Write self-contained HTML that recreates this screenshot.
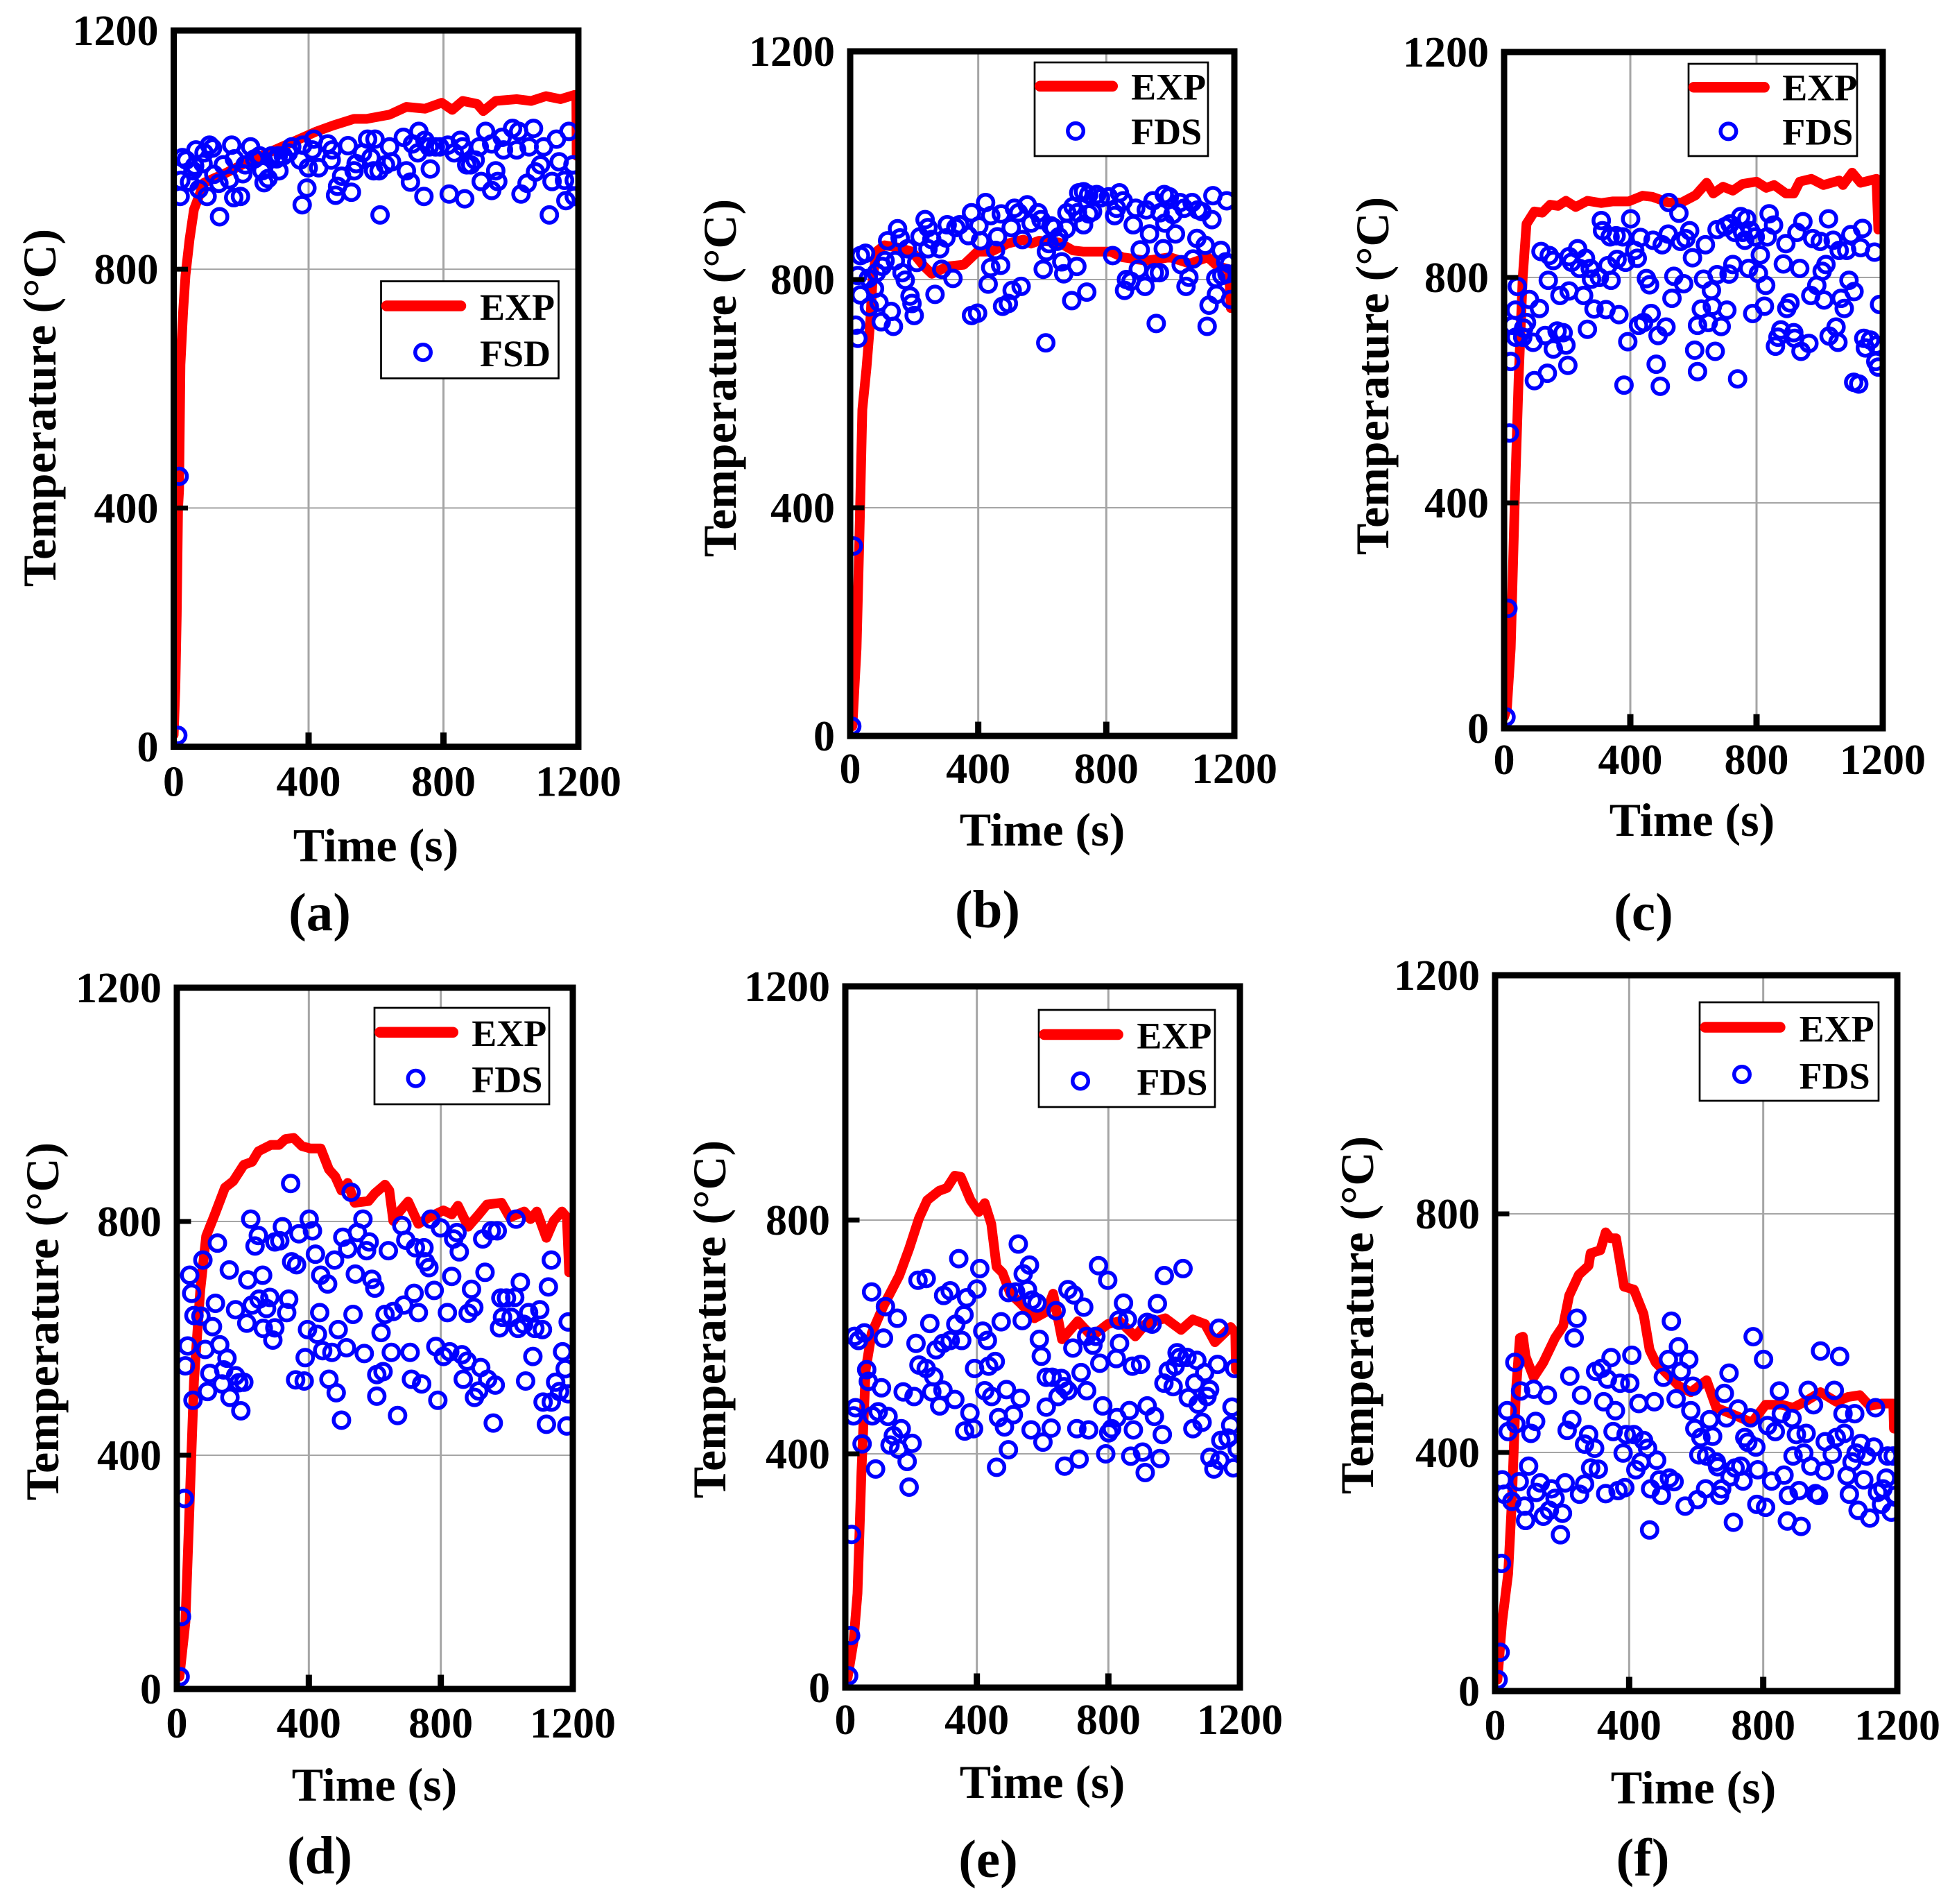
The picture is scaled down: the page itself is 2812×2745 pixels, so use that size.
<!DOCTYPE html>
<html lang="en">
<head>
<meta charset="utf-8">
<title>Temperature vs time comparison</title>
<style>
html,body{margin:0;padding:0;background:#fff}
svg{display:block}
text{font-family:"Liberation Serif",serif;font-weight:bold;fill:#000}
</style>
</head>
<body>
<svg id="figure" xmlns="http://www.w3.org/2000/svg" width="2812" height="2745" viewBox="0 0 2812 2745"></svg>
<script>
const timeTicks = [0, 400, 800, 1200];
const tempTicks = [0, 400, 800, 1200];

const expA = [[0,20],[5,100],[9,220],[13,400],[16,430],[20,640],[28,730],[35,790],[47,850],[60,900],[90,945],[150,960],[220,980],[300,1000],[360,1015],[424,1031],[473,1041],[535,1052],[572,1052],[640,1059],[690,1072],[745,1069],[795,1079],[826,1067],[857,1082],[900,1077],[918,1065],[955,1082],[1017,1085],[1060,1082],[1104,1090],[1147,1085],[1188,1092],[1194,1092],[1195,990]];
const fdsA = [[12,19],[16,453],[19,922],[26,987],[37,983],[21,949],[47,946],[57,965],[66,1000],[62,973],[75,934],[87,977],[99,922],[90,995],[115,1003],[106,1008],[119,959],[134,944],[136,888],[147,975],[165,950],[172,1008],[180,985],[178,920],[198,922],[205,960],[212,975],[228,1005],[240,985],[255,990],[262,965],[268,945],[280,952],[290,990],[305,985],[310,990],[312,965],[325,990],[340,995],[350,1005],[375,983],[383,1008],[381,908],[395,936],[399,970],[415,1018],[411,1000],[430,970],[457,1010],[470,1000],[467,983],[480,924],[486,939],[498,956],[517,1007],[527,929],[535,965],[541,977],[560,995],[575,1018],[597,1018],[585,987],[593,965],[612,891],[609,965],[628,975],[640,1005],[646,980],[681,1021],[690,965],[702,946],[708,1010],[727,1031],[724,995],[742,922],[745,1016],[758,1005],[761,968],[776,1005],[789,1005],[817,926],[813,1008],[832,995],[850,1016],[857,1005],[863,918],[869,975],[881,975],[894,983],[906,1005],[912,947],[925,1031],[943,1010],[943,932],[955,965],[961,947],[974,1021],[978,1000],[1005,1036],[1023,1031],[1017,1000],[1030,926],[1048,944],[1067,1036],[1054,1005],[1073,963],[1088,975],[1097,1005],[1114,891],[1122,947],[1135,1018],[1143,980],[1159,949],[1163,915],[1172,1031],[1184,975],[1188,949],[1188,922]];

const expB = [[0,20],[7,17],[20,153],[29,352],[38,572],[51,645],[63,729],[70,800],[82,849],[107,860],[150,856],[193,849],[231,823],[255,810],[305,823],[355,826],[398,849],[441,849],[491,863],[541,870],[565,863],[590,868],[652,865],[696,851],[727,849],[813,849],[851,839],[925,833],[999,839],[1061,828],[1117,839],[1148,823],[1183,818],[1189,750]];
const fdsB = [[5,17],[10,333],[17,720],[24,697],[24,807],[32,773],[32,842],[48,846],[60,752],[57,802],[76,784],[82,812],[90,760],[97,726],[100,823],[109,833],[117,868],[128,744],[135,718],[141,833],[148,889],[156,873],[162,812],[172,799],[179,854],[187,771],[193,758],[200,737],[208,830],[218,875],[234,905],[243,891],[243,854],[255,870],[265,774],[280,854],[286,818],[299,873],[303,896],[321,802],[330,891],[342,896],[369,877],[379,917],[379,737],[398,741],[402,894],[407,868],[423,935],[431,792],[439,821],[439,912],[454,851],[460,875],[470,825],[472,915],[476,753],[494,758],[503,891],[506,781],[513,925],[534,788],[526,917],[538,870],[553,931],[565,899],[587,917],[596,905],[603,818],[611,689],[613,849],[621,863],[627,894],[636,891],[646,867],[652,875],[661,831],[667,810],[675,889],[677,917],[692,763],[696,928],[708,823],[710,917],[714,952],[729,896],[729,954],[739,778],[745,915],[745,949],[757,919],[770,949],[782,943],[807,945],[820,842],[826,912],[832,925],[841,952],[853,938],[857,781],[863,800],[877,797],[884,896],[892,925],[900,818],[906,852],[921,788],[925,922],[935,880],[946,938],[950,812],[956,723],[966,812],[968,917],[978,854],[981,949],[983,899],[997,945],[1008,914],[1016,880],[1030,935],[1034,826],[1043,925],[1049,788],[1058,804],[1068,935],[1071,836],[1083,872],[1086,922],[1099,919],[1109,860],[1115,718],[1121,755],[1133,947],[1130,905],[1142,802],[1144,774],[1158,851],[1161,807],[1176,938],[1173,831],[1177,810],[1185,828],[1188,765]];

const expC = [[0,20],[9,36],[21,142],[34,407],[46,620],[59,800],[71,895],[96,917],[121,915],[146,929],[171,927],[196,936],[227,925],[264,936],[308,932],[345,935],[395,935],[439,945],[470,943],[520,933],[563,933],[607,946],[642,968],[663,949],[694,961],[725,954],[756,966],[800,970],[831,959],[856,964],[893,949],[918,949],[937,970],[974,975],[1012,964],[1062,972],[1074,964],[1103,986],[1130,968],[1180,975],[1186,885]];
const fdsC = [[6,20],[12,213],[17,524],[21,651],[27,715],[36,742],[42,784],[37,694],[59,694],[62,710],[71,720],[80,761],[92,685],[96,617],[112,745],[117,846],[130,697],[137,630],[140,795],[143,839],[156,830],[156,673],[168,705],[177,768],[187,702],[196,680],[202,644],[206,837],[206,776],[214,827],[233,851],[239,816],[252,768],[258,834],[264,708],[273,816],[277,797],[285,744],[302,800],[308,901],[312,883],[323,743],[329,821],[336,872],[339,795],[355,874],[364,734],[358,832],[376,872],[380,609],[385,827],[392,686],[401,904],[414,848],[422,834],[426,715],[432,871],[442,720],[451,798],[461,787],[466,736],[472,866],[482,646],[488,697],[495,607],[501,858],[513,712],[520,877],[522,933],[532,763],[538,802],[554,914],[559,864],[569,789],[576,869],[588,883],[597,835],[604,671],[613,633],[613,715],[625,744],[632,797],[638,858],[647,720],[657,777],[660,749],[669,669],[675,885],[675,805],[688,713],[700,890],[706,742],[713,806],[716,895],[725,823],[731,880],[740,620],[750,908],[756,880],[763,866],[769,904],[775,816],[781,883],[788,736],[796,872],[806,807],[812,840],[825,749],[829,786],[834,872],[840,913],[854,893],[860,678],[868,694],[877,707],[885,824],[893,860],[896,745],[906,755],[918,702],[921,692],[928,880],[937,816],[941,669],[947,899],[966,683],[972,768],[978,869],[991,786],[1002,864],[1008,811],[1014,760],[1020,823],[1028,904],[1030,696],[1043,866],[1052,712],[1058,685],[1062,848],[1068,763],[1078,745],[1086,848],[1093,795],[1099,876],[1109,775],[1108,614],[1124,611],[1130,853],[1136,887],[1140,692],[1145,675],[1161,689],[1174,845],[1178,651],[1180,680],[1186,641],[1190,752]];

const expD = [[0,20],[8,21],[26,114],[39,320],[52,527],[71,682],[89,775],[115,812],[146,858],[171,869],[203,897],[228,902],[247,920],[285,931],[310,931],[329,941],[354,943],[379,929],[404,925],[436,925],[461,889],[480,877],[499,853],[518,866],[539,832],[581,835],[600,848],[631,863],[644,853],[656,801],[675,817],[701,834],[732,796],[764,807],[808,819],[833,812],[852,827],[883,791],[915,812],[940,829],[984,832],[1009,807],[1053,817],[1072,804],[1091,817],[1120,772],[1142,801],[1167,817],[1182,807],[1189,713]];
const fdsD = [[10,21],[14,124],[23,326],[26,553],[33,587],[39,708],[45,677],[49,494],[52,639],[73,638],[79,734],[86,581],[93,509],[100,540],[108,620],[117,660],[123,763],[130,589],[137,522],[142,546],[152,566],[159,717],[161,499],[178,649],[178,536],[188,524],[194,476],[203,525],[212,626],[215,700],[224,804],[228,657],[237,758],[247,776],[249,667],[260,708],[262,617],[272,651],[282,670],[291,597],[297,618],[297,765],[312,767],[320,791],[333,644],[339,667],[345,865],[348,731],[360,529],[363,726],[370,779],[386,527],[389,567],[396,615],[401,804],[411,784],[420,744],[426,607],[433,644],[436,708],[442,579],[457,693],[461,530],[470,576],[478,734],[483,507],[489,615],[499,460],[503,773],[514,584],[518,753],[528,850],[534,641],[541,710],[547,781],[564,804],[568,574],[575,750],[583,765],[591,701],[600,686],[606,501],[606,538],[619,610],[625,543],[631,641],[641,750],[650,576],[656,646],[669,468],[682,793],[688,657],[694,768],[707,576],[711,530],[719,677],[723,755],[732,644],[742,522],[749,755],[753,731],[764,721],[770,804],[780,682],[785,586],[791,494],[799,789],[808,569],[820,644],[827,577],[833,706],[839,770],[849,781],[856,748],[868,530],[864,572],[880,561],[883,643],[893,684],[900,653],[902,499],[915,510],[921,550],[927,770],[934,713],[942,530],[953,784],[959,455],[965,520],[971,784],[978,618],[982,669],[987,636],[999,669],[1013,636],[1024,670],[1034,617],[1028,804],[1041,696],[1051,624],[1057,527],[1066,644],[1079,569],[1085,617],[1100,649],[1108,615],[1110,491],[1120,453],[1126,688],[1135,734],[1135,491],[1148,525],[1160,509],[1169,577],[1177,548],[1182,450],[1186,505],[1186,628]];

const expE = [[0,20],[7,17],[25,79],[37,161],[49,368],[62,544],[80,606],[116,653],[164,705],[194,751],[224,803],[249,834],[285,850],[309,855],[333,876],[351,874],[381,834],[406,814],[424,829],[444,793],[460,720],[478,710],[502,674],[532,658],[575,632],[611,643],[632,674],[659,596],[707,627],[750,601],[798,622],[834,627],[882,601],[913,622],[973,632],[1021,612],[1057,630],[1094,622],[1124,591],[1172,617],[1186,607],[1188,544]];
const fdsE = [[10,20],[16,89],[19,262],[25,465],[28,601],[31,479],[40,594],[51,417],[58,607],[65,544],[70,524],[80,677],[82,465],[92,374],[100,472],[110,513],[116,598],[122,652],[130,464],[136,415],[146,431],[158,632],[162,408],[170,443],[176,506],[188,387],[194,343],[203,418],[209,498],[215,589],[221,697],[224,552],[246,700],[246,546],[257,623],[263,506],[269,532],[276,578],[287,482],[297,509],[297,589],[299,671],[319,594],[319,679],[333,493],[336,622],[345,734],[354,594],[361,638],[363,439],[369,667],[379,470],[390,443],[393,546],[400,682],[409,717],[418,610],[424,508],[432,594],[436,550],[445,498],[456,558],[460,377],[466,462],[474,626],[484,446],[490,510],[496,407],[496,676],[511,467],[518,677],[526,759],[532,495],[538,628],[541,708],[554,681],[560,723],[565,441],[568,663],[583,658],[590,596],[596,567],[601,420],[611,531],[611,480],[626,444],[629,531],[641,645],[647,498],[657,529],[665,515],[667,379],[677,508],[677,681],[692,581],[695,672],[704,443],[711,391],[717,539],[725,651],[734,508],[740,441],[734,601],[753,586],[762,601],[770,722],[774,555],[783,482],[792,400],[798,697],[801,436],[810,443],[824,563],[826,462],[832,629],[834,589],[846,658],[858,630],[864,474],[868,396],[876,441],[873,550],[898,553],[904,403],[912,368],[918,625],[918,482],[933,622],[940,464],[949,657],[957,392],[964,433],[970,705],[969,521],[982,542],[997,515],[1003,550],[1009,573],[1027,717],[1017,565],[1039,565],[1043,496],[1057,443],[1063,521],[1069,560],[1073,485],[1085,454],[1093,539],[1100,498],[1108,510],[1109,394],[1121,374],[1132,553],[1136,615],[1139,389],[1142,423],[1164,427],[1172,449],[1176,480],[1180,376],[1184,546],[1192,408]];

const expF = [[0,20],[7,19],[21,116],[39,197],[50,318],[62,501],[74,592],[83,594],[91,561],[115,526],[144,551],[179,592],[203,612],[221,663],[250,698],[279,713],[285,734],[314,739],[330,769],[344,759],[361,759],[385,678],[414,673],[443,632],[461,572],[479,551],[514,531],[549,511],[584,501],[631,521],[660,475],[725,460],[766,450],[807,480],[854,480],[889,475],[924,485],[971,501],[1018,485],[1053,493],[1088,496],[1118,478],[1153,482],[1188,482],[1190,440]];
const fdsF = [[9,19],[15,65],[19,214],[21,354],[27,330],[36,470],[39,435],[50,318],[59,551],[62,448],[72,351],[76,503],[88,310],[91,286],[100,377],[107,432],[115,506],[121,452],[123,333],[135,349],[144,293],[156,496],[162,303],[168,339],[179,323],[195,262],[201,298],[209,349],[215,437],[223,528],[229,455],[236,592],[244,625],[252,330],[258,496],[267,347],[267,414],[279,430],[285,374],[297,407],[300,536],[308,372],[318,541],[324,485],[330,331],[335,523],[346,559],[352,435],[359,470],[367,336],[373,516],[382,399],[387,341],[391,430],[402,516],[408,563],[414,430],[420,371],[429,482],[435,384],[443,420],[455,407],[461,270],[464,339],[475,485],[482,387],[490,354],[496,328],[502,526],[517,556],[520,357],[526,620],[534,351],[540,490],[547,577],[555,536],[567,310],[578,556],[584,470],[590,511],[596,440],[604,321],[608,396],[614,425],[628,339],[631,394],[640,455],[649,427],[660,384],[664,376],[670,328],[676,339],[684,499],[690,458],[698,533],[701,359],[711,283],[716,374],[725,473],[733,377],[740,352],[745,425],[754,417],[762,458],[770,594],[778,409],[781,313],[784,371],[801,556],[807,308],[813,445],[825,352],[836,435],[848,503],[854,465],[862,362],[872,285],[875,328],[886,457],[889,394],[899,430],[907,336],[913,276],[921,399],[928,432],[934,504],[942,377],[950,480],[956,331],[965,328],[971,570],[983,369],[985,418],[1006,397],[1012,504],[1018,425],[1028,561],[1038,465],[1042,432],[1050,361],[1057,330],[1065,384],[1073,465],[1077,399],[1083,303],[1091,415],[1100,354],[1108,394],[1118,290],[1130,409],[1135,475],[1141,333],[1153,313],[1157,339],[1167,357],[1171,394],[1182,300],[1188,394],[1194,328]];

const panels = [
  {id:'a',exp:expA,fds:fdsA,series2:'FSD',L:250.5,R:834,T:44,B:1076.5,lx:549.5,ly:405.5,lw:256,lh:140,tickY:71,titleX:542,titleY:165,yx:80,yc:588,capX:461,capY:1341},
  {id:'b',exp:expB,fds:fdsB,series2:'FDS',L:1226,R:1780,T:74,B:1061,lx:1492,ly:90,lw:250,lh:135,tickY:68,titleX:1503,titleY:158,yx:1061,yc:545,capX:1424,capY:1337},
  {id:'c',exp:expC,fds:fdsC,series2:'FDS',L:2169,R:2715,T:75,B:1050,lx:2435,ly:92,lw:243,lh:133,tickY:66,titleX:2440,titleY:155,yx:2002,yc:542,capX:2370,capY:1341},
  {id:'d',exp:expD,fds:fdsD,series2:'FDS',L:255,R:826,T:1424,B:2435,lx:540,ly:1453,lw:252,lh:139,tickY:70,titleX:540,titleY:161,yx:84,yc:1905,capX:461,capY:2701},
  {id:'e',exp:expE,fds:fdsE,series2:'FDS',L:1219,R:1788,T:1422,B:2433,lx:1498,ly:1456,lw:254,lh:140,tickY:67,titleX:1503,titleY:159,yx:1046,yc:1902,capX:1425,capY:2706},
  {id:'f',exp:expF,fds:fdsF,series2:'FDS',L:2156,R:2736,T:1406,B:2438,lx:2451,ly:1445,lw:258,lh:142,tickY:70,titleX:2442,titleY:162,yx:1980,yc:1896,capX:2369,capY:2704}
];

const svg = document.getElementById('figure');
const NS = 'http://www.w3.org/2000/svg';

function make(tag, attrs, parent, content) {
  const el = document.createElementNS(NS, tag);
  for (const k in attrs) el.setAttribute(k, attrs[k]);
  if (content !== undefined) el.textContent = content;
  parent.appendChild(el);
  return el;
}

panels.forEach(function (p) {
  const xScale = function (t) { return p.L + (t / 1200) * (p.R - p.L); };
  const yScale = function (v) { return p.B - (v / 1200) * (p.B - p.T); };

  const g = make('g', {}, svg);
  
  

  const defs = make('defs', {}, g);
  const cp = make('clipPath', {id: 'clip-' + p.id}, defs);
  make('rect', {x: p.L + 4, y: p.T + 4, width: p.R - p.L - 8, height: p.B - p.T - 8}, cp);

  timeTicks.forEach(function (t) {
    if (t > 0 && t < 1200) {
      const grid = make('line', {x1: xScale(t), x2: xScale(t), y1: p.T, y2: p.B, stroke: '#a5a5a5', 'stroke-width': 3}, g);
      
      
    }
  });
  tempTicks.forEach(function (v) {
    if (v > 0 && v < 1200) {
      const grid = make('line', {x1: p.L, x2: p.R, y1: yScale(v), y2: yScale(v), stroke: '#a5a5a5', 'stroke-width': 2}, g);
      
      
    }
  });

  const plot = make('g', {'clip-path': 'url(#clip-' + p.id + ')'}, g);

  const line = make('polyline', {
    points: p.exp.map(function (d) { return xScale(d[0]) + ',' + yScale(d[1]); }).join(' '),
    fill: 'none', stroke: '#ff0000', 'stroke-width': 14, 'stroke-linejoin': 'round', 'stroke-linecap': 'round'
  }, plot);
  
  

  p.fds.forEach(function (d) {
    const c = make('circle', {cx: xScale(d[0]), cy: yScale(d[1]), r: 11.25, fill: 'none', stroke: '#0000ff', 'stroke-width': 5.5}, plot);
    
    
  });

  const frame = make('rect', {x: p.L, y: p.T, width: p.R - p.L, height: p.B - p.T, fill: 'none', stroke: '#000', 'stroke-width': 9}, g);
  
  

  timeTicks.forEach(function (t) {
    if (t > 0 && t < 1200) {
      const tick = make('line', {x1: xScale(t), x2: xScale(t), y1: p.B, y2: p.B - 20.5, stroke: '#000', 'stroke-width': 9}, g);
      
      
    }
    const lab = make('text', {x: xScale(t), y: p.B + p.tickY, 'font-size': 62, 'text-anchor': 'middle'}, g, String(t));
    
    
  });
  tempTicks.forEach(function (v) {
    if (v > 0 && v < 1200) {
      const tick = make('line', {x1: p.L, x2: p.L + 20.5, y1: yScale(v), y2: yScale(v), stroke: '#000', 'stroke-width': 7}, g);
      
      
    }
    const lab = make('text', {x: p.L - 22, y: yScale(v) + 21, 'font-size': 62, 'text-anchor': 'end'}, g, String(v));
    
    
  });

  const xt = make('text', {x: p.titleX, y: p.B + p.titleY, 'font-size': 68, 'text-anchor': 'middle'}, g, 'Time (s)');
  
  

  const yt = make('text', {x: p.yx, y: p.yc, 'font-size': 68, 'text-anchor': 'middle', transform: 'rotate(-90 ' + p.yx + ' ' + p.yc + ')'}, g, 'Temperature (°C)');
  
  

  const cap = make('text', {x: p.capX, y: p.capY, 'font-size': 77, 'text-anchor': 'middle'}, g, '(' + p.id + ')');
  
  

  const sx = p.lw / 256;
  const sy = p.lh / 140;
  const leg = make('g', {}, g);
  
  
  make('rect', {x: p.lx, y: p.ly, width: p.lw, height: p.lh, fill: '#fff', stroke: '#000', 'stroke-width': 2.7}, leg);
  const legLine = make('line', {x1: p.lx + 8 * sx, x2: p.lx + 115 * sx, y1: p.ly + 35.5 * sy, y2: p.ly + 35.5 * sy, stroke: '#ff0000', 'stroke-width': 15.5, 'stroke-linecap': 'round'}, leg);
  
  
  const legDot = make('circle', {cx: p.lx + 60.5 * sx, cy: p.ly + 102.5 * sy, r: 11.25, fill: 'none', stroke: '#0000ff', 'stroke-width': 5.5}, leg);
  
  
  const l1 = make('text', {x: p.lx + 142.5 * sx, y: p.ly + 55.5 * sy, 'font-size': 54}, leg, 'EXP');
  
  
  const l2 = make('text', {x: p.lx + 142.5 * sx, y: p.ly + 122.5 * sy, 'font-size': 54}, leg, p.series2);
  
  
});
</script>
</body>
</html>
